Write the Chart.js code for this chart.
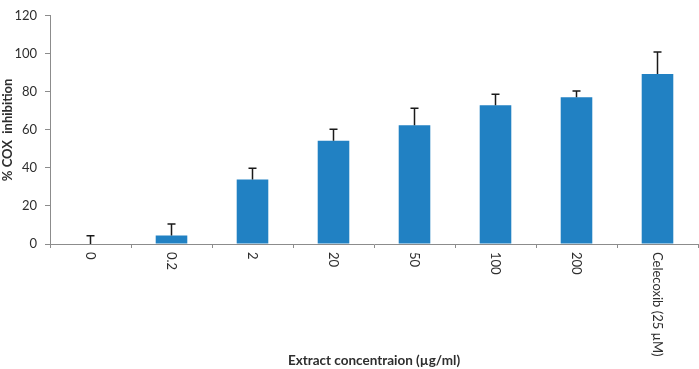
<!DOCTYPE html>
<html>
<head>
<meta charset="utf-8">
<script src="https://cdn.jsdelivr.net/npm/chart.js@4"></script>
<style>
  html, body { margin: 0; padding: 0; background: #fff; }
  #wrap { width: 699px; height: 369px; }
</style>
</head>
<body>
<div id="wrap"><canvas id="coxChart" width="699" height="369"></canvas></div>
<script>
// values
const categories = ['0', '0.2', '2', '20', '50', '100', '200', 'Celecoxib (25 µM)'];
const inhibition = [0, 4.5, 33.9, 54.3, 62.5, 73.0, 77.2, 89.4];
const errors = [4.4, 6.0, 5.9, 6.0, 8.9, 5.8, 3.3, 11.5];
const yTicks = [0, 20, 40, 60, 80, 100, 120];

const TEXT = '#2e2e2e';
const AXIS = '#8c8c8c';

// error bars + labels rotated clockwise (top to bottom), as in Excel
const extras = {
  id: 'extras',
  afterDatasetsDraw(chart) {
    const ctx = chart.ctx;
    const y = chart.scales.y;
    const meta = chart.getDatasetMeta(0);
    ctx.save();
    ctx.strokeStyle = '#1a1a1a';
    ctx.lineWidth = 1.5;
    meta.data.forEach((bar, i) => {
      const top = y.getPixelForValue(inhibition[i] + errors[i]);
      const base = y.getPixelForValue(inhibition[i]);
      ctx.beginPath();
      ctx.moveTo(bar.x, base);
      ctx.lineTo(bar.x, top);
      ctx.moveTo(bar.x - 4, top);
      ctx.lineTo(bar.x + 4, top);
      ctx.stroke();
    });
    ctx.restore();

    const x = chart.scales.x;
    ctx.save();
    ctx.fillStyle = TEXT;
    ctx.font = '13px Lato';
    ctx.textAlign = 'left';
    ctx.textBaseline = 'middle';
    categories.forEach((c, i) => {
      ctx.save();
      ctx.translate(x.getPixelForValue(i), chart.chartArea.bottom + 8);
      ctx.rotate(Math.PI / 2);
      ctx.fillText(c, 0, 0);
      ctx.restore();
    });
    ctx.restore();
  }
};

new Chart(document.getElementById('coxChart').getContext('2d'), {
  type: 'bar',
  data: {
    labels: categories,
    datasets: [{
      data: inhibition,
      backgroundColor: '#2181c3',
      borderWidth: 0,
      barPercentage: 0.39,
      categoryPercentage: 1
    }]
  },
  options: {
    responsive: false,
    animation: false,
    layout: { padding: { top: 6, right: 1, bottom: 0, left: 0 } },
    plugins: {
      legend: { display: false },
      tooltip: { enabled: false }
    },
    scales: {
      x: {
        offset: true,
        afterFit: (s) => { s.height = 125; },
        grid: { offset: true, drawOnChartArea: false, drawTicks: true, tickLength: 4, color: AXIS },
        border: { color: AXIS, width: 1 },
        ticks: { display: false },
        title: {
          display: true,
          text: 'Extract concentraion (µg/ml)',
          color: TEXT,
          font: { family: 'Lato', size: 13.5, weight: 'bold' },
          padding: 0
        }
      },
      y: {
        min: 0,
        max: 120,
        afterFit: (s) => { s.width = 50; },
        afterBuildTicks: (s) => { s.ticks = yTicks.map(v => ({ value: v })); },
        grid: { drawOnChartArea: false, drawTicks: true, tickLength: 5, color: AXIS },
        border: { color: AXIS, width: 1 },
        ticks: {
          color: TEXT,
          font: { family: 'Lato', size: 13 },
          padding: 8
        },
        title: {
          display: true,
          text: '% COX  inhibition',
          color: TEXT,
          font: { family: 'Lato', size: 13, weight: 'bold' },
          padding: 0
        }
      }
    }
  },
  plugins: [extras]
});
</script>
</body>
</html>
